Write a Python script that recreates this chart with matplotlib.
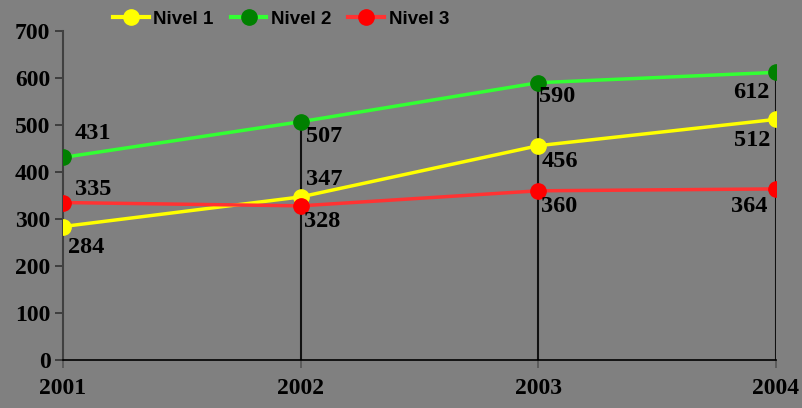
import matplotlib
matplotlib.use("Agg")
import matplotlib.pyplot as plt
from matplotlib.lines import Line2D

years = ["2001", "2002", "2003", "2004"]
nivel1 = [284, 347, 456, 512]
nivel2 = [431, 507, 590, 612]
nivel3 = [335, 328, 360, 364]
series_names = ["Nivel 1", "Nivel 2", "Nivel 3"]
yticks = [0, 100, 200, 300, 400, 500, 600, 700]

bg = "#808080"
fig = plt.figure(figsize=(8.03, 4.08), dpi=100, facecolor=bg)
ax = fig.add_axes([63/803, 1-360/408, (776-63)/803, (360-31)/408])
ax.set_facecolor(bg)

x = list(range(len(years)))
# drop lines
tops = [max(a, b, c) for a, b, c in zip(nivel1, nivel2, nivel3)]
ax.vlines(x[1:], 0, tops[1:], color="#111111", lw=1.5, zorder=1)

styles = [
    (nivel1, "#FFFF00", "#FFFF00"),
    (nivel2, "#33FF33", "#008000"),
    (nivel3, "#FF3333", "#FF0000"),
]
handles = []
for (vals, lc, mc), name in zip(styles, series_names):
    ax.plot(x, vals, color=lc, lw=2.5, zorder=3, marker="o", markersize=11,
            markerfacecolor=mc, markeredgecolor=mc)
    handles.append(Line2D([], [], color=lc, lw=3, marker="o", markersize=11,
                          markerfacecolor=mc, markeredgecolor=mc, label=name))

# label offsets in pixels (dx, dy), ha
offs1 = [((5, -21), "left"), ((5, 17), "left"), ((3, -16), "left"), ((-6, -21), "right")]
offs2 = [((12, 24), "left"), ((5, -15), "left"), ((1, -14), "left"), ((-6, -20), "right")]
offs3 = [((12, 13), "left"), ((3, -16), "left"), ((3, -16), "left"), ((-8, -18), "right")]
lab_font = dict(family="Liberation Serif", weight="bold", size=17.5, color="black")
for vals, offs in [(nivel1, offs1), (nivel2, offs2), (nivel3, offs3)]:
    for xi, v, ((dx, dy), ha) in zip(x, vals, offs):
        ax.annotate(str(v), (xi, v), xytext=(dx*0.72, dy*0.72), textcoords="offset points",
                    ha=ha, va="center", zorder=5, **lab_font)

ax.set_xlim(0, 3)
ax.set_ylim(0, 700)
ax.set_yticks(yticks)
ax.set_yticklabels([str(t) for t in yticks])
ax.set_xticks(x)
ax.set_xticklabels(years)
for lab in ax.get_xticklabels() + ax.get_yticklabels():
    lab.set_fontfamily("Liberation Serif")
    lab.set_fontweight("bold")
    lab.set_fontsize(17)
ax.tick_params(axis="y", direction="out", length=6, width=1.2, color="#333333", pad=3)
ax.tick_params(axis="x", direction="out", length=6, width=1.2, color="#555555", pad=7)
for s in ["top", "right"]:
    ax.spines[s].set_visible(False)
ax.spines["left"].set_color("#404040")
ax.spines["left"].set_linewidth(1.5)
ax.spines["bottom"].set_color("black")
ax.spines["bottom"].set_linewidth(1.2)

leg = fig.legend(handles=handles, loc="center", bbox_to_anchor=(0.350, 1-19/408),
                 ncol=3, frameon=False, handlelength=1.9, handletextpad=0.25,
                 columnspacing=0.9, borderpad=0.2,
                 prop=dict(family="Liberation Sans", weight="bold", size=13.5))

fig.savefig("out.png", dpi=100, facecolor=bg)
